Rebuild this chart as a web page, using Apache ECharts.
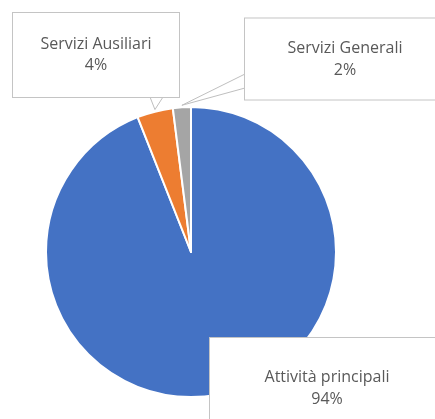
<!DOCTYPE html>
<html>
<head>
<meta charset="utf-8">
<script src="https://cdn.jsdelivr.net/npm/echarts@6/dist/echarts.min.js"></script>
<style>
  html, body { margin: 0; padding: 0; background: #fff; }
  #chart { width: 435px; height: 419px; }
</style>
</head>
<body>
<div id="chart"></div>
<script>
// Ripartizione per area di attività (%)
const categories = ['Attività principali', 'Servizi Ausiliari', 'Servizi Generali'];
const values = [94, 4, 2];
const colors = ['#4472C4', '#ED7D31', '#A5A5A5'];

// Callout boxes: centre, content width, padding, line height and the two base points of the pointer
const boxes = [
  { cx: 327, cy: 388, w: 234, pad: [28, 0, 28, 0], lh: 22, base: null },
  { cx: 96, cy: 55, w: 166, pad: [29, 0, 13, 0], lh: 21, base: [[150, 97], [163, 97]] },
  { cx: 345, cy: 59, w: 200, pad: [28, 0, 9, 0], lh: 22, base: [[245, 74], [245, 88]] }
];

const chart = echarts.init(document.getElementById('chart'), null, { renderer: 'canvas' });

const data = categories.map((name, i) => ({
  name,
  value: values[i],
  itemStyle: { color: colors[i] },
  label: { width: boxes[i].w, padding: boxes[i].pad, lineHeight: boxes[i].lh },
  labelLine: { show: i !== 0 }
}));

chart.setOption({
  backgroundColor: '#ffffff',
  animation: false,
  series: [{
    type: 'pie',
    center: [191, 252],
    radius: 145,
    startAngle: 90,
    clockwise: true,
    itemStyle: { borderColor: '#ffffff', borderWidth: 2 },
    label: {
      show: true,
      position: 'outside',
      formatter: '{b}\n{c}%',
      fontFamily: 'Open Sans',
      fontSize: 16,
      color: '#595959',
      align: 'center',
      backgroundColor: '#ffffff',
      borderColor: '#c4c4c4',
      borderWidth: 1
    },
    labelLine: {
      show: true,
      length: 6,
      length2: 6,
      lineStyle: { color: '#bfbfbf', width: 1 }
    },
    labelLayout: function (params) {
      const b = boxes[params.dataIndex];
      const out = { x: b.cx, y: b.cy, align: 'center', verticalAlign: 'middle' };
      if (b.base && params.labelLinePoints) {
        // pointer: box edge -> slice edge -> box edge
        const tip = params.labelLinePoints[0];
        out.labelLinePoints = [b.base[0], [tip[0], tip[1] - 2], b.base[1]];
      }
      return out;
    },
    data
  }]
});
</script>
</body>
</html>
